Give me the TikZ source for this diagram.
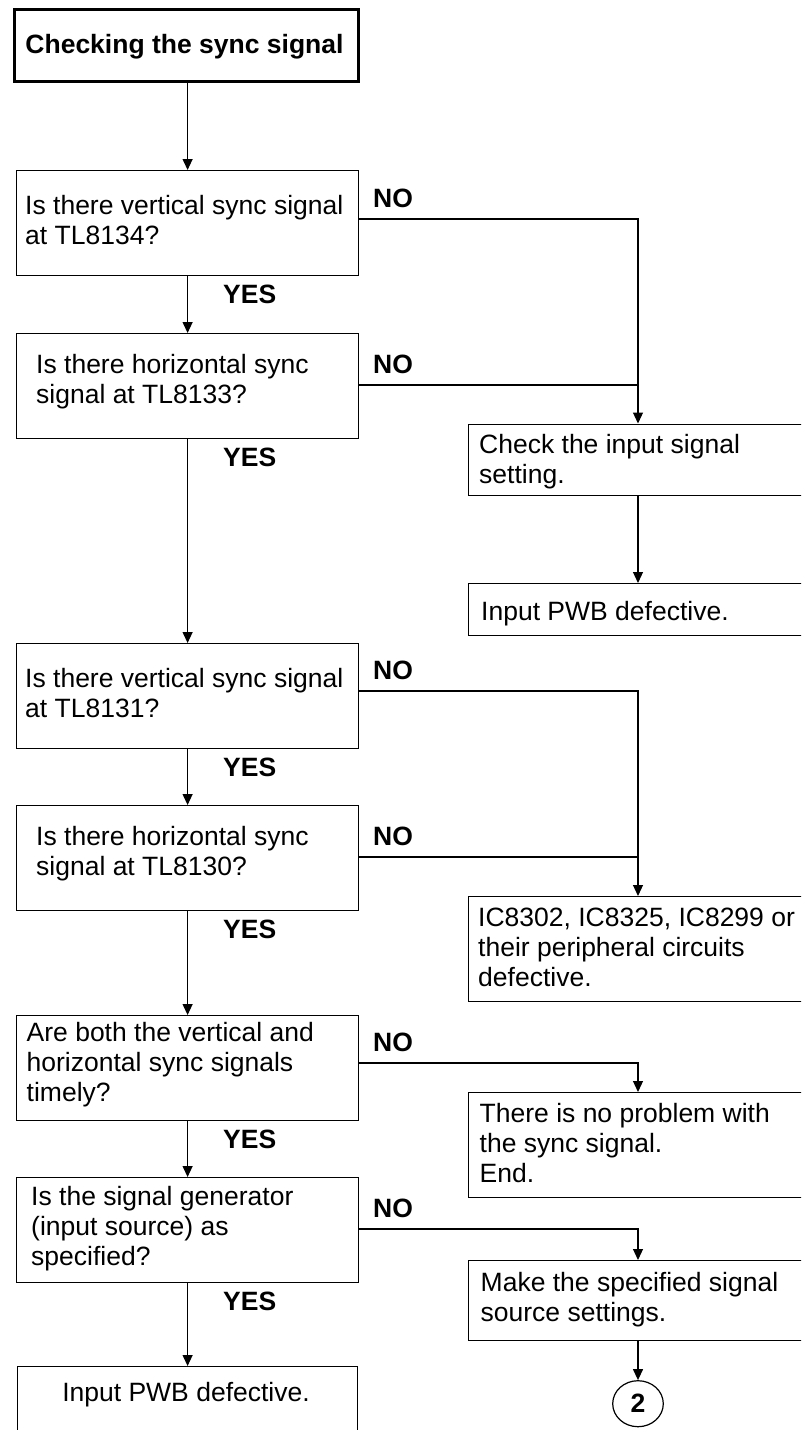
\documentclass[tikz,border=0pt]{standalone}
\usepackage{fontspec}
\setmainfont{Liberation Sans}
\usetikzlibrary{arrows.meta,shapes.geometric}
\tikzset{
  box/.style={draw, line width=1.2pt, inner sep=0pt, anchor=north west},
  txt/.style={font=\fontsize{26.5}{30}\selectfont, align=left, inner sep=0pt, anchor=north west},
  lbl/.style={font=\bfseries\fontsize{26.5}{30}\selectfont, inner sep=0pt, anchor=base west},
  conn/.style={line width=1.2pt, -{Triangle[length=11pt,width=10pt]}},
  plain/.style={line width=1.2pt}
}
\begin{document}
\begin{tikzpicture}[x=1pt,y=-1pt]
\useasboundingbox (0,0) rectangle (801,1430);
\fill[white] (0,0) rectangle (801,1430);
\clip (0,0) rectangle (801,1430);
\coordinate (colx) at (638,0);
% title
\node[draw, line width=3pt, inner sep=0pt, anchor=north west, minimum width=344pt, minimum height=72pt] (title) at (12.5,7.5) {};
\node[font=\bfseries\fontsize{26.5}{30}\selectfont, inner sep=0pt, anchor=base] (tt) at (184.5,53.3) {Checking the sync signal};
% left column boxes
\node[box, minimum width=342pt, minimum height=105pt] (b1) at (16,170) {};
\node[box, minimum width=342pt, minimum height=105pt] (b2) at (16,333) {};
\node[box, minimum width=342pt, minimum height=105pt] (b3) at (16,643) {};
\node[box, minimum width=342pt, minimum height=105pt] (b4) at (16,805) {};
\node[box, minimum width=342pt, minimum height=105pt] (b5) at (16,1015) {};
\node[box, minimum width=342pt, minimum height=105pt] (b6) at (16,1177) {};
\node[box, minimum width=340pt, minimum height=90pt] (b7) at (16.7,1366) {};
% right column boxes
\node[box, minimum width=360pt, minimum height=71pt] (chk) at (468,423.5) {};
\node[box, minimum width=360pt, minimum height=52pt] (inp) at (468,583) {};
\node[box, minimum width=360pt, minimum height=105pt] (ic) at (468,896) {};
\node[box, minimum width=360pt, minimum height=105pt] (np) at (468,1092) {};
\node[box, minimum width=360pt, minimum height=80pt] (mk) at (468,1260) {};
\node[draw, ellipse, line width=1.2pt, inner sep=0pt, minimum width=50.6pt, minimum height=46pt, font=\bfseries\fontsize{26.5}{30}\selectfont] (c2) at (638,1403.7) {2};
% texts
\node[txt] (t1) at (25,193) {\strut Is there vertical sync signal\\at TL8134?};
\node[txt] (t2) at (36,352) {\strut Is there horizontal sync\\signal at TL8133?};
\node[txt] (t3) at (25,666) {\strut Is there vertical sync signal\\at TL8131?};
\node[txt] (t4) at (36,824) {\strut Is there horizontal sync\\signal at TL8130?};
\node[txt] (t5) at (26.5,1020.5) {\strut Are both the vertical and\\horizontal sync signals\\timely?};
\node[txt] (t6) at (31,1184) {\strut Is the signal generator\\(input source) as\\specified?};
\node[font=\fontsize{26.5}{30}\selectfont, inner sep=0pt, anchor=base] (t7) at (186,1401.7) {Input PWB defective.};
\node[txt] (tc) at (479,432) {\strut Check the input signal\\setting.};
\node[font=\fontsize{26.5}{30}\selectfont, inner sep=0pt, anchor=base west] (ti) at (481,620) {Input PWB defective.};
\node[txt] (tic) at (478,905.5) {\strut IC8302, IC8325, IC8299 or\\their peripheral circuits\\defective.};
\node[txt] (tnp) at (479.5,1101.5) {\strut There is no problem with\\the sync signal.\\End.};
\node[txt] (tmk) at (480.5,1270.7) {\strut Make the specified signal\\source settings.};
% labels
\node[lbl] (n1) at (373,207) {NO};
\node[lbl] (n2) at (373,373) {NO};
\node[lbl] (n3) at (373,679) {NO};
\node[lbl] (n4) at (373,845) {NO};
\node[lbl] (n5) at (373,1051) {NO};
\node[lbl] (n6) at (373,1217) {NO};
\node[lbl] (y1) at (223,303.5) {YES};
\node[lbl] (y2) at (223,466.5) {YES};
\node[lbl] (y3) at (223,776.5) {YES};
\node[lbl] (y4) at (223,938.5) {YES};
\node[lbl] (y5) at (223,1148.5) {YES};
\node[lbl] (y6) at (223,1310.5) {YES};
% left column connectors
\draw[conn] (b1.north |- title.south) -- (b1.north);
\draw[conn] (b1.south) -- (b2.north);
\draw[conn] (b2.south) -- (b3.north);
\draw[conn] (b3.south) -- (b4.north);
\draw[conn] (b4.south) -- (b5.north);
\draw[conn] (b5.south) -- (b6.north);
\draw[conn] (b6.south) -- (b7.north -| b6.south);
% NO connectors
\draw[conn] ([yshift=-49pt]b1.north east) -| (chk.north -| colx);
\draw[plain] ([yshift=-52pt]b2.north east) -- ([yshift=-52pt]b2.north east -| colx);
\draw[conn] (chk.south -| colx) -- (inp.north -| colx);
\draw[conn] ([yshift=-48pt]b3.north east) -| (ic.north -| colx);
\draw[plain] ([yshift=-52pt]b4.north east) -- ([yshift=-52pt]b4.north east -| colx);
\draw[conn] ([yshift=-48pt]b5.north east) -| (np.north -| colx);
\draw[conn] ([yshift=-52pt]b6.north east) -| (mk.north -| colx);
\draw[conn] (mk.south -| colx) -- (c2.north);
\end{tikzpicture}
\end{document}
